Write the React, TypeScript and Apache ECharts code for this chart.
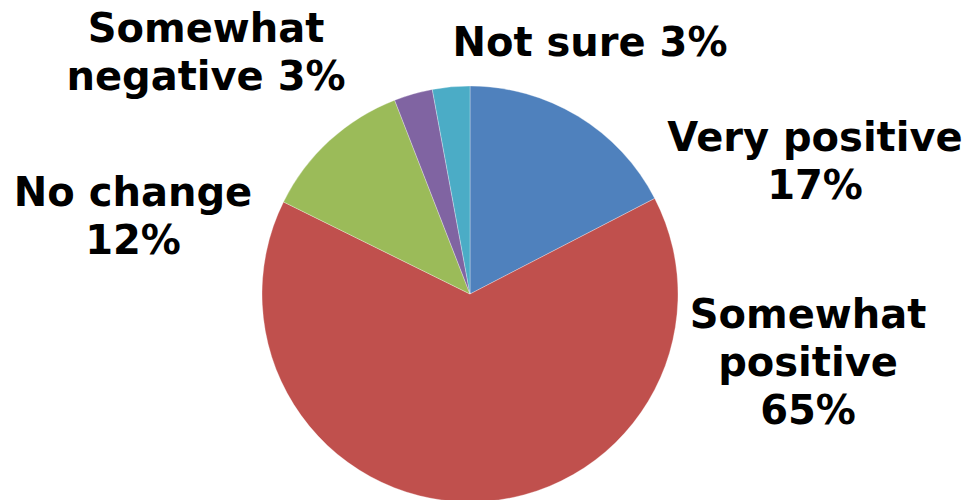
import React, { useEffect, useRef } from "react";
import * as echarts from "echarts";

const categories = ["Very positive", "Somewhat positive", "No change", "Somewhat negative", "Not sure"];
const values = [17.4, 64.9, 11.8, 3.0, 2.9];
const colors = ["#4F81BD", "#C0504D", "#9BBB59", "#8064A2", "#4BACC6"];
// how each label breaks into lines
const labelTexts = [
  "Very positive\n{v}%",
  "Somewhat\npositive\n{v}%",
  "No change\n{v}%",
  "Somewhat\nnegative {v}%",
  "Not sure {v}%",
];
// label centres (layout only)
const labelPos: [number, number][] = [
  [815, 161],
  [808, 362],
  [133, 216],
  [206, 52],
  [590, 42],
];

export default function App() {
  const ref = useRef<HTMLDivElement>(null);
  useEffect(() => {
    if (!ref.current) return;
    const chart = echarts.init(ref.current, undefined, { renderer: "svg" });
    chart.setOption({
      animation: false,
      backgroundColor: "#ffffff",
      series: [
        {
          type: "pie",
          center: [470, 294],
          radius: 208,
          startAngle: 90,
          clockwise: true,
          data: categories.map((c, i) => ({
            name: c,
            value: values[i],
            itemStyle: { color: colors[i] },
          })),
          itemStyle: { borderColor: "rgba(255,255,255,0.6)", borderWidth: 0.5 },
          label: {
            show: true,
            position: "outside",
            formatter: (p: any) => labelTexts[p.dataIndex].replace("{v}", String(Math.round(p.value))),
            fontFamily: "DejaVu Sans",
            fontWeight: "bold",
            fontSize: 40,
            lineHeight: 48,
            color: "#000",
            align: "center",
            overflow: "none",
            width: 400,
          },
          labelLine: { show: false },
          labelLayout: (p: any) => ({
            x: labelPos[p.dataIndex][0],
            y: labelPos[p.dataIndex][1],
            align: "center",
            verticalAlign: "middle",
          }),
          emphasis: { disabled: true },
        },
      ],
    });
    return () => chart.dispose();
  }, []);
  return (
    <div
      ref={ref}
      style={{ position: "fixed", left: 0, top: 0, width: 968, height: 500 }}
    />
  );
}
